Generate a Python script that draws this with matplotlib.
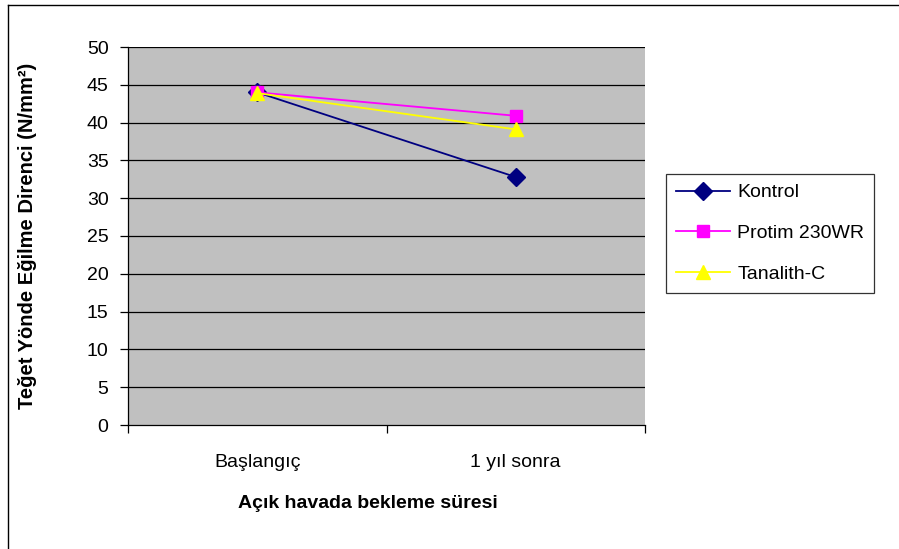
import matplotlib
matplotlib.use("Agg")
import matplotlib.pyplot as plt
from matplotlib.lines import Line2D

plt.rcParams['font.family'] = ['Liberation Sans', 'DejaVu Sans']

categories = ["Başlangıç", "1 yıl sonra"]
kontrol = [44.0, 32.8]
protim = [44.0, 40.9]
tanalith = [43.9, 39.1]
series_names = ["Kontrol", "Protim 230WR", "Tanalith-C"]
y_ticks = [0, 5, 10, 15, 20, 25, 30, 35, 40, 45, 50]

FS = 14

fig = plt.figure(figsize=(8.99, 5.49), dpi=100)
ax = fig.add_axes([128 / 899, 1 - 425 / 549, 517 / 899, 378 / 549])
ax.set_facecolor("#C0C0C0")

x = list(range(len(categories)))
ax.plot(x, kontrol, color="#000080", marker="D", markersize=9, lw=1.3,
        label=series_names[0], zorder=3)
ax.plot(x, protim, color="#FF00FF", marker="s", markersize=8.5, lw=1.3,
        label=series_names[1], zorder=3)
ax.plot(x, tanalith, color="#FFFF00", marker="^", markersize=10, lw=1.3,
        label=series_names[2], zorder=3)

ax.set_xlim(-0.5, 1.5)
ax.set_ylim(0, 50)
ax.set_yticks(y_ticks)
ax.set_yticklabels([str(v) for v in y_ticks], fontsize=FS)
for v in y_ticks[1:]:
    ax.axhline(v, color="black", lw=0.9, zorder=1)

ax.set_xticks([-0.5, 0.5, 1.5])
ax.set_xticklabels([])
ax.set_xticks(x, minor=True)
ax.set_xticklabels(categories, minor=True, fontsize=FS)
ax.tick_params(axis="x", which="minor", length=0, pad=21)
ax.tick_params(axis="x", which="major", length=6, width=0.9, direction="out")
ax.tick_params(axis="y", length=6, width=0.9, direction="out", pad=8)

for side in ("top", "right"):
    ax.spines[side].set_visible(False)
for side in ("left", "bottom"):
    ax.spines[side].set_color("black")
    ax.spines[side].set_linewidth(0.9)

ax.set_ylabel("Teğet Yönde Eğilme Direnci (N/mm²)", fontsize=FS + 0.5,
              fontweight="bold")
ax.yaxis.set_label_coords((37 - 128) / 517, 0.5)
fig.text(368 / 899, 1 - 503 / 549, "Açık havada bekleme süresi", fontsize=FS,
         fontweight="bold", ha="center", va="center")

leg = fig.legend(loc="upper left", bbox_to_anchor=(666 / 899, 1 - 174 / 549),
                 borderaxespad=0, fontsize=FS, frameon=True, fancybox=False,
                 handlelength=2.8, handletextpad=0.36, labelspacing=1.2,
                 borderpad=0.5)
leg.get_frame().set_edgecolor("black")
leg.get_frame().set_linewidth(0.9)

# outer chart frame (top and left edges)
fig.add_artist(Line2D([8 / 899, 1.0], [1 - 5 / 549, 1 - 5 / 549],
                      transform=fig.transFigure, color="black", lw=1))
fig.add_artist(Line2D([8 / 899, 8 / 899], [0.0, 1 - 5 / 549],
                      transform=fig.transFigure, color="black", lw=1))

fig.savefig("out.png", dpi=100)
